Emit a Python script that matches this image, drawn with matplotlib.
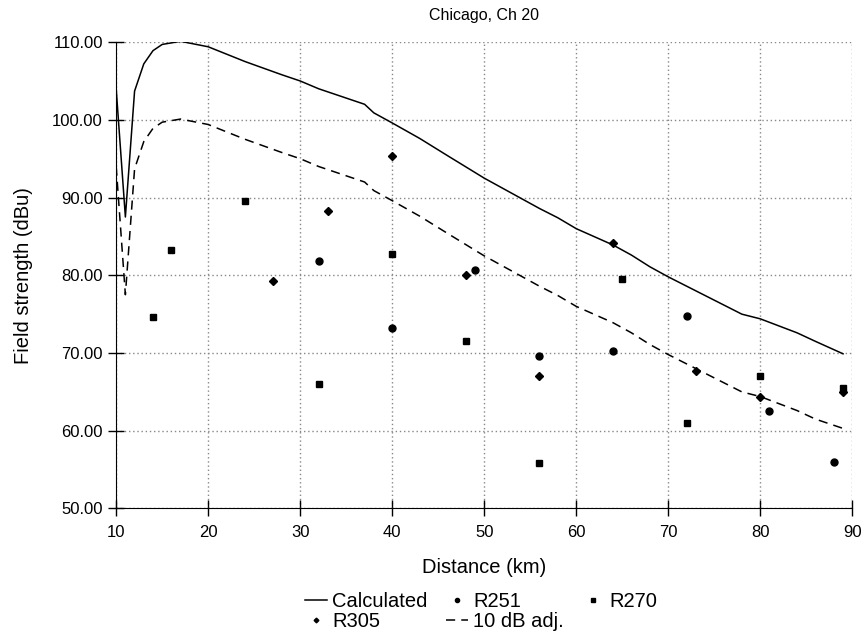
import numpy as np
import matplotlib
matplotlib.use('Agg')
import matplotlib.pyplot as plt
from matplotlib.ticker import FormatStrFormatter, MultipleLocator

plt.rcParams['font.family'] = ['Liberation Sans', 'DejaVu Sans']

# Calculated field strength and the 10 dB adjusted curve
calc_x = [10, 11, 12, 13, 14, 15, 17, 20, 24, 28, 30, 32, 35, 37, 38, 40, 43, 46, 50,
          54, 56, 58, 60, 64, 66, 68, 70, 72, 74, 76, 78, 80, 82, 84, 86, 89]
calc_y = [104.0, 87.5, 103.7, 107.2, 108.9, 109.7, 110.1, 109.4, 107.5, 105.8, 105.0,
          104.0, 102.8, 102.0, 100.9, 99.6, 97.6, 95.4, 92.5, 89.9, 88.6, 87.4, 86.0,
          83.9, 82.6, 81.1, 79.8, 78.6, 77.4, 76.2, 75.0, 74.4, 73.5, 72.6, 71.5, 69.9]
adj_y = [94.0, 77.5, 93.7, 97.2, 98.9, 99.7, 100.1, 99.4, 97.5, 95.8, 95.0,
         94.0, 92.8, 92.0, 90.9, 89.6, 87.6, 85.4, 82.5, 79.9, 78.6, 77.4, 76.0,
         73.9, 72.6, 71.1, 69.8, 68.6, 67.4, 66.2, 65.0, 64.4, 63.5, 62.6, 61.5, 60.3]

# measured points
r251_x = [32, 40, 49, 56, 64, 72, 81, 88]
r251_y = [81.8, 73.2, 80.7, 69.6, 70.3, 74.8, 62.5, 56.0]
r270_x = [14, 16, 24, 32, 40, 48, 56, 65, 72, 80, 89]
r270_y = [74.6, 83.3, 89.5, 66.0, 82.8, 71.5, 55.8, 79.5, 61.0, 67.1, 65.5]
r305_x = [27, 33, 40, 48, 56, 64, 73, 80, 89]
r305_y = [79.3, 88.3, 95.3, 80.1, 67.0, 84.2, 67.7, 64.3, 65.0]

fig = plt.figure(figsize=(8.67, 6.38), dpi=100)
ax = fig.add_axes([0.134, 0.203, 0.849, 0.731])

l_calc, = ax.plot(calc_x, calc_y, color='black', lw=1.1, label='Calculated')
l_adj, = ax.plot(calc_x, adj_y, color='black', lw=1.1, ls=(0, (6, 4)), label='10 dB adj.')
s251, = ax.plot(r251_x, r251_y, 'o', color='black', ms=5, ls='none', label='R251')
s270, = ax.plot(r270_x, r270_y, 's', color='black', ms=5, ls='none', label='R270')
s305, = ax.plot(r305_x, r305_y, 'D', color='black', ms=4, ls='none', label='R305')

ax.set_xlim(10, 90)
ax.set_ylim(50, 110)
ax.xaxis.set_major_locator(MultipleLocator(10))
ax.yaxis.set_major_locator(MultipleLocator(10))
ax.yaxis.set_major_formatter(FormatStrFormatter('%.2f'))
ax.grid(True, color='#888888', ls=(0, (1, 2)), lw=1)
ax.spines['top'].set_visible(False)
ax.spines['right'].set_visible(False)
ax.tick_params(direction='inout', length=12, width=1, labelsize=12, colors='black')
ax.tick_params(axis='x', pad=6)

ax.set_title('Chicago, Ch 20', fontsize=11.5, pad=16)
ax.set_xlabel('Distance (km)', fontsize=14.5, labelpad=13)
ax.set_ylabel('Field strength (dBu)', fontsize=14.5, labelpad=14)

handles = [l_calc, s305, s251, l_adj, s270]
fig.legend(handles, [h.get_label() for h in handles], loc='upper center',
           bbox_to_anchor=(0.555, 0.10), ncol=3, frameon=False, fontsize=14.5,
           handlelength=1.1, handletextpad=0.25, columnspacing=0.9, labelspacing=0.05,
           markerscale=0.6)

plt.savefig('out.png', dpi=100)
